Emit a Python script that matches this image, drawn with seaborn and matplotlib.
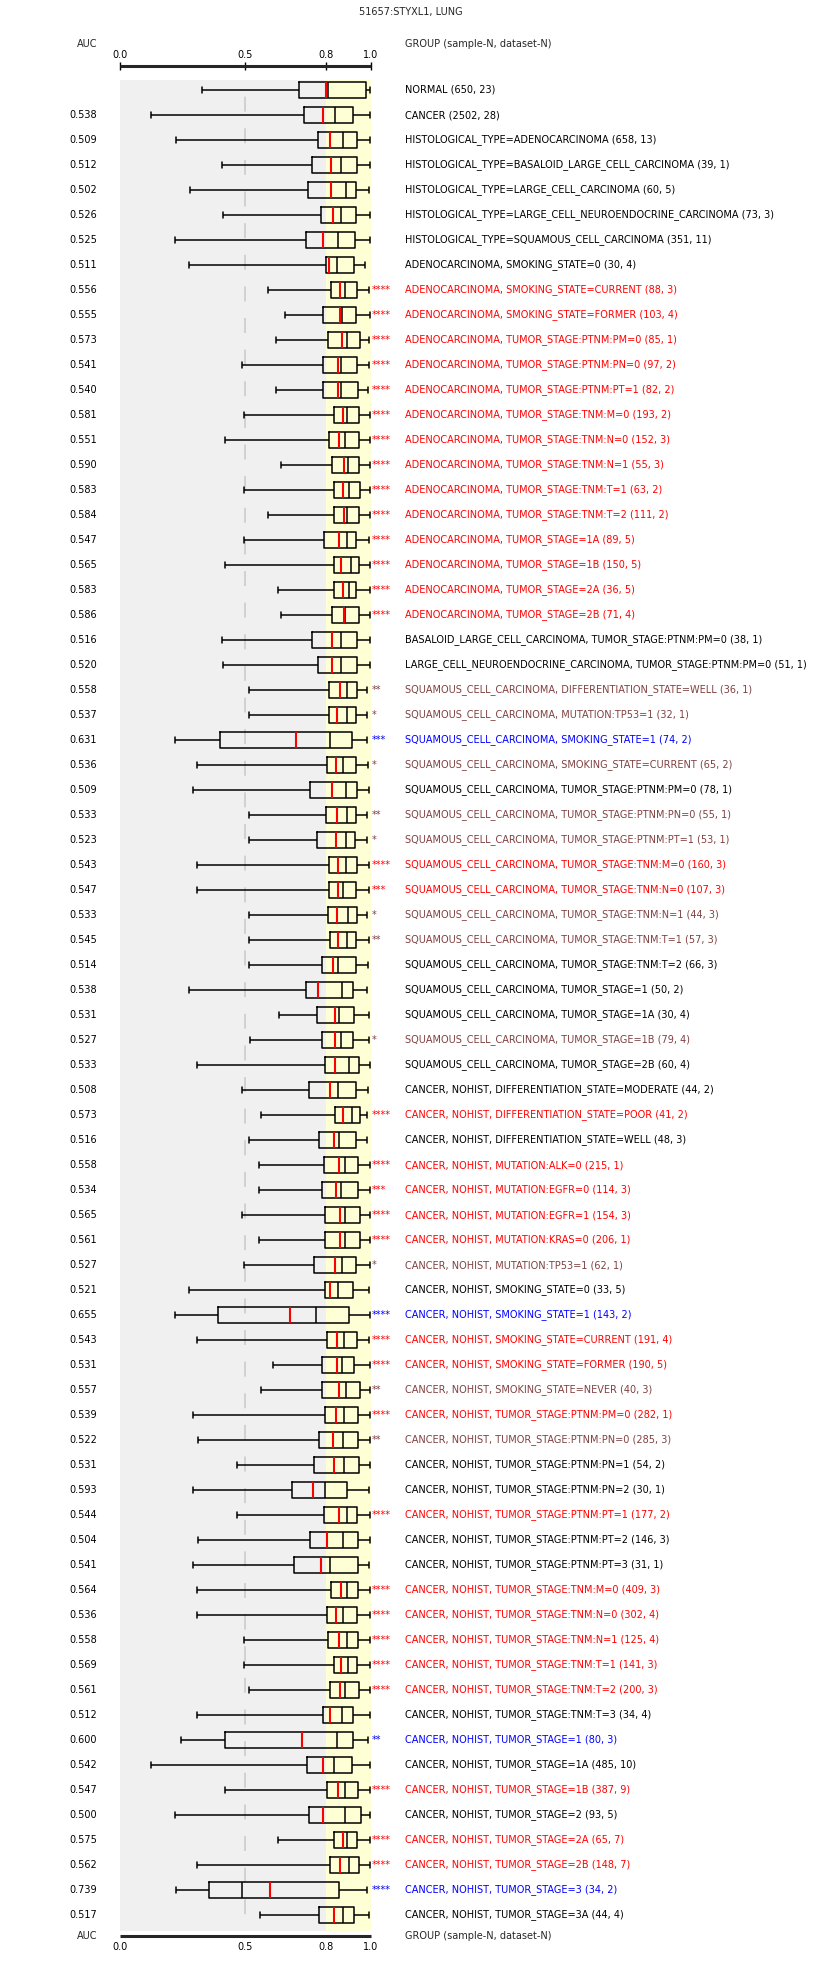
import numpy as np
import pandas as pd
import matplotlib
matplotlib.use("Agg")
import matplotlib.pyplot as plt
import matplotlib.transforms as mtransforms
import seaborn as sns

title = "51657:STYXL1, LUNG"
header_left = "AUC"
header_right = "GROUP (sample-N, dataset-N)"

groups = [
    "NORMAL (650, 23)",
    "CANCER (2502, 28)",
    "HISTOLOGICAL_TYPE=ADENOCARCINOMA (658, 13)",
    "HISTOLOGICAL_TYPE=BASALOID_LARGE_CELL_CARCINOMA (39, 1)",
    "HISTOLOGICAL_TYPE=LARGE_CELL_CARCINOMA (60, 5)",
    "HISTOLOGICAL_TYPE=LARGE_CELL_NEUROENDOCRINE_CARCINOMA (73, 3)",
    "HISTOLOGICAL_TYPE=SQUAMOUS_CELL_CARCINOMA (351, 11)",
    "ADENOCARCINOMA, SMOKING_STATE=0 (30, 4)",
    "ADENOCARCINOMA, SMOKING_STATE=CURRENT (88, 3)",
    "ADENOCARCINOMA, SMOKING_STATE=FORMER (103, 4)",
    "ADENOCARCINOMA, TUMOR_STAGE:PTNM:PM=0 (85, 1)",
    "ADENOCARCINOMA, TUMOR_STAGE:PTNM:PN=0 (97, 2)",
    "ADENOCARCINOMA, TUMOR_STAGE:PTNM:PT=1 (82, 2)",
    "ADENOCARCINOMA, TUMOR_STAGE:TNM:M=0 (193, 2)",
    "ADENOCARCINOMA, TUMOR_STAGE:TNM:N=0 (152, 3)",
    "ADENOCARCINOMA, TUMOR_STAGE:TNM:N=1 (55, 3)",
    "ADENOCARCINOMA, TUMOR_STAGE:TNM:T=1 (63, 2)",
    "ADENOCARCINOMA, TUMOR_STAGE:TNM:T=2 (111, 2)",
    "ADENOCARCINOMA, TUMOR_STAGE=1A (89, 5)",
    "ADENOCARCINOMA, TUMOR_STAGE=1B (150, 5)",
    "ADENOCARCINOMA, TUMOR_STAGE=2A (36, 5)",
    "ADENOCARCINOMA, TUMOR_STAGE=2B (71, 4)",
    "BASALOID_LARGE_CELL_CARCINOMA, TUMOR_STAGE:PTNM:PM=0 (38, 1)",
    "LARGE_CELL_NEUROENDOCRINE_CARCINOMA, TUMOR_STAGE:PTNM:PM=0 (51, 1)",
    "SQUAMOUS_CELL_CARCINOMA, DIFFERENTIATION_STATE=WELL (36, 1)",
    "SQUAMOUS_CELL_CARCINOMA, MUTATION:TP53=1 (32, 1)",
    "SQUAMOUS_CELL_CARCINOMA, SMOKING_STATE=1 (74, 2)",
    "SQUAMOUS_CELL_CARCINOMA, SMOKING_STATE=CURRENT (65, 2)",
    "SQUAMOUS_CELL_CARCINOMA, TUMOR_STAGE:PTNM:PM=0 (78, 1)",
    "SQUAMOUS_CELL_CARCINOMA, TUMOR_STAGE:PTNM:PN=0 (55, 1)",
    "SQUAMOUS_CELL_CARCINOMA, TUMOR_STAGE:PTNM:PT=1 (53, 1)",
    "SQUAMOUS_CELL_CARCINOMA, TUMOR_STAGE:TNM:M=0 (160, 3)",
    "SQUAMOUS_CELL_CARCINOMA, TUMOR_STAGE:TNM:N=0 (107, 3)",
    "SQUAMOUS_CELL_CARCINOMA, TUMOR_STAGE:TNM:N=1 (44, 3)",
    "SQUAMOUS_CELL_CARCINOMA, TUMOR_STAGE:TNM:T=1 (57, 3)",
    "SQUAMOUS_CELL_CARCINOMA, TUMOR_STAGE:TNM:T=2 (66, 3)",
    "SQUAMOUS_CELL_CARCINOMA, TUMOR_STAGE=1 (50, 2)",
    "SQUAMOUS_CELL_CARCINOMA, TUMOR_STAGE=1A (30, 4)",
    "SQUAMOUS_CELL_CARCINOMA, TUMOR_STAGE=1B (79, 4)",
    "SQUAMOUS_CELL_CARCINOMA, TUMOR_STAGE=2B (60, 4)",
    "CANCER, NOHIST, DIFFERENTIATION_STATE=MODERATE (44, 2)",
    "CANCER, NOHIST, DIFFERENTIATION_STATE=POOR (41, 2)",
    "CANCER, NOHIST, DIFFERENTIATION_STATE=WELL (48, 3)",
    "CANCER, NOHIST, MUTATION:ALK=0 (215, 1)",
    "CANCER, NOHIST, MUTATION:EGFR=0 (114, 3)",
    "CANCER, NOHIST, MUTATION:EGFR=1 (154, 3)",
    "CANCER, NOHIST, MUTATION:KRAS=0 (206, 1)",
    "CANCER, NOHIST, MUTATION:TP53=1 (62, 1)",
    "CANCER, NOHIST, SMOKING_STATE=0 (33, 5)",
    "CANCER, NOHIST, SMOKING_STATE=1 (143, 2)",
    "CANCER, NOHIST, SMOKING_STATE=CURRENT (191, 4)",
    "CANCER, NOHIST, SMOKING_STATE=FORMER (190, 5)",
    "CANCER, NOHIST, SMOKING_STATE=NEVER (40, 3)",
    "CANCER, NOHIST, TUMOR_STAGE:PTNM:PM=0 (282, 1)",
    "CANCER, NOHIST, TUMOR_STAGE:PTNM:PN=0 (285, 3)",
    "CANCER, NOHIST, TUMOR_STAGE:PTNM:PN=1 (54, 2)",
    "CANCER, NOHIST, TUMOR_STAGE:PTNM:PN=2 (30, 1)",
    "CANCER, NOHIST, TUMOR_STAGE:PTNM:PT=1 (177, 2)",
    "CANCER, NOHIST, TUMOR_STAGE:PTNM:PT=2 (146, 3)",
    "CANCER, NOHIST, TUMOR_STAGE:PTNM:PT=3 (31, 1)",
    "CANCER, NOHIST, TUMOR_STAGE:TNM:M=0 (409, 3)",
    "CANCER, NOHIST, TUMOR_STAGE:TNM:N=0 (302, 4)",
    "CANCER, NOHIST, TUMOR_STAGE:TNM:N=1 (125, 4)",
    "CANCER, NOHIST, TUMOR_STAGE:TNM:T=1 (141, 3)",
    "CANCER, NOHIST, TUMOR_STAGE:TNM:T=2 (200, 3)",
    "CANCER, NOHIST, TUMOR_STAGE:TNM:T=3 (34, 4)",
    "CANCER, NOHIST, TUMOR_STAGE=1 (80, 3)",
    "CANCER, NOHIST, TUMOR_STAGE=1A (485, 10)",
    "CANCER, NOHIST, TUMOR_STAGE=1B (387, 9)",
    "CANCER, NOHIST, TUMOR_STAGE=2 (93, 5)",
    "CANCER, NOHIST, TUMOR_STAGE=2A (65, 7)",
    "CANCER, NOHIST, TUMOR_STAGE=2B (148, 7)",
    "CANCER, NOHIST, TUMOR_STAGE=3 (34, 2)",
    "CANCER, NOHIST, TUMOR_STAGE=3A (44, 4)",
]

auc = [None, 0.538, 0.509, 0.512, 0.502, 0.526, 0.525, 0.511, 0.556, 0.555,
       0.573, 0.541, 0.540, 0.581, 0.551, 0.590, 0.583, 0.584, 0.547, 0.565,
       0.583, 0.586, 0.516, 0.520, 0.558, 0.537, 0.631, 0.536, 0.509, 0.533,
       0.523, 0.543, 0.547, 0.533, 0.545, 0.514, 0.538, 0.531, 0.527, 0.533,
       0.508, 0.573, 0.516, 0.558, 0.534, 0.565, 0.561, 0.527, 0.521, 0.655,
       0.543, 0.531, 0.557, 0.539, 0.522, 0.531, 0.593, 0.544, 0.504, 0.541,
       0.564, 0.536, 0.558, 0.569, 0.561, 0.512, 0.600, 0.542, 0.547, 0.500,
       0.575, 0.562, 0.739, 0.517]

stars = ["", "", "", "", "", "", "", "", "****", "****",
         "****", "****", "****", "****", "****", "****", "****", "****", "****", "****",
         "****", "****", "", "", "**", "*", "***", "*", "", "**",
         "*", "****", "***", "*", "**", "", "", "", "*", "",
         "", "****", "", "****", "***", "****", "****", "*", "", "****",
         "****", "****", "**", "****", "**", "", "", "****", "", "",
         "****", "****", "****", "****", "****", "", "**", "", "****", "",
         "****", "****", "****", ""]

# k = not significant, r = higher, n = weakly significant, b = lower
sig_class = ["k", "k", "k", "k", "k", "k", "k", "k", "r", "r",
             "r", "r", "r", "r", "r", "r", "r", "r", "r", "r",
             "r", "r", "k", "k", "n", "n", "b", "n", "k", "n",
             "n", "r", "r", "n", "n", "k", "k", "k", "n", "k",
             "k", "r", "k", "r", "r", "r", "r", "n", "k", "b",
             "r", "r", "n", "r", "n", "k", "k", "r", "k", "k",
             "r", "r", "r", "r", "r", "k", "b", "k", "r", "k",
             "r", "r", "b", "k"]

whisker_lo = [0.326, 0.125, 0.225, 0.408, 0.281, 0.412, 0.221, 0.277, 0.592, 0.660,
              0.621, 0.488, 0.621, 0.496, 0.420, 0.644, 0.496, 0.592, 0.496, 0.420,
              0.632, 0.644, 0.408, 0.412, 0.516, 0.516, 0.221, 0.309, 0.293, 0.516,
              0.516, 0.309, 0.309, 0.516, 0.516, 0.516, 0.277, 0.636, 0.520, 0.309,
              0.488, 0.564, 0.516, 0.556, 0.556, 0.488, 0.556, 0.496, 0.277, 0.221,
              0.309, 0.612, 0.564, 0.293, 0.313, 0.468, 0.293, 0.468, 0.313, 0.293,
              0.309, 0.309, 0.496, 0.496, 0.516, 0.309, 0.245, 0.125, 0.420, 0.221,
              0.632, 0.309, 0.225, 0.560]

q1 = [0.715, 0.735, 0.791, 0.767, 0.751, 0.803, 0.743, 0.823, 0.843, 0.811,
      0.831, 0.811, 0.811, 0.855, 0.835, 0.847, 0.855, 0.855, 0.815, 0.855,
      0.855, 0.847, 0.767, 0.791, 0.835, 0.835, 0.400, 0.827, 0.759, 0.823,
      0.787, 0.835, 0.835, 0.831, 0.839, 0.807, 0.743, 0.787, 0.807, 0.819,
      0.755, 0.859, 0.795, 0.815, 0.807, 0.819, 0.819, 0.775, 0.819, 0.392,
      0.827, 0.807, 0.807, 0.819, 0.795, 0.775, 0.688, 0.815, 0.759, 0.695,
      0.843, 0.827, 0.831, 0.855, 0.839, 0.811, 0.420, 0.747, 0.827, 0.755,
      0.855, 0.839, 0.356, 0.795]

median = [0.831, 0.859, 0.891, 0.883, 0.903, 0.883, 0.871, 0.867, 0.899, 0.886,
          0.907, 0.883, 0.883, 0.907, 0.899, 0.911, 0.915, 0.907, 0.907, 0.923,
          0.915, 0.899, 0.883, 0.883, 0.907, 0.907, 0.839, 0.891, 0.903, 0.907,
          0.903, 0.903, 0.891, 0.911, 0.907, 0.871, 0.887, 0.875, 0.883, 0.915,
          0.871, 0.927, 0.875, 0.899, 0.883, 0.899, 0.899, 0.887, 0.871, 0.783,
          0.895, 0.887, 0.903, 0.895, 0.891, 0.895, 0.819, 0.907, 0.891, 0.839,
          0.907, 0.891, 0.907, 0.911, 0.899, 0.887, 0.867, 0.855, 0.899, 0.899,
          0.907, 0.915, 0.488, 0.891]

q3 = [0.983, 0.931, 0.947, 0.947, 0.943, 0.943, 0.939, 0.935, 0.947, 0.943,
      0.959, 0.947, 0.951, 0.955, 0.955, 0.955, 0.959, 0.955, 0.943, 0.955,
      0.943, 0.955, 0.947, 0.947, 0.947, 0.943, 0.927, 0.943, 0.947, 0.943,
      0.939, 0.947, 0.943, 0.947, 0.943, 0.943, 0.931, 0.935, 0.931, 0.955,
      0.943, 0.959, 0.943, 0.951, 0.951, 0.959, 0.959, 0.943, 0.931, 0.915,
      0.947, 0.935, 0.959, 0.951, 0.951, 0.955, 0.907, 0.947, 0.951, 0.951,
      0.951, 0.947, 0.951, 0.947, 0.955, 0.931, 0.931, 0.927, 0.951, 0.963,
      0.947, 0.955, 0.875, 0.935]

whisker_hi = [0.999, 0.999, 0.999, 0.999, 0.995, 0.999, 0.999, 0.979, 0.995, 0.999,
              0.995, 0.995, 0.991, 0.999, 0.999, 0.999, 0.999, 0.999, 0.995, 0.999,
              0.999, 0.999, 0.999, 0.999, 0.987, 0.987, 0.987, 0.991, 0.995, 0.987,
              0.987, 0.995, 0.995, 0.987, 0.995, 0.991, 0.987, 0.995, 0.995, 0.999,
              0.991, 0.987, 0.987, 0.999, 0.999, 0.999, 0.999, 0.999, 0.995, 0.999,
              0.995, 0.999, 0.999, 0.999, 0.999, 0.999, 0.995, 0.999, 0.999, 0.995,
              0.999, 0.999, 0.999, 0.999, 0.999, 0.999, 0.991, 0.999, 0.999, 0.999,
              0.999, 0.999, 0.987, 0.995]

red_mark = [0.823, 0.811, 0.839, 0.843, 0.843, 0.851, 0.811, 0.835, 0.879, 0.879,
            0.887, 0.871, 0.871, 0.891, 0.875, 0.895, 0.891, 0.895, 0.875, 0.883,
            0.891, 0.895, 0.847, 0.847, 0.879, 0.867, 0.703, 0.863, 0.847, 0.867,
            0.863, 0.871, 0.871, 0.867, 0.871, 0.851, 0.791, 0.859, 0.859, 0.859,
            0.839, 0.891, 0.855, 0.875, 0.863, 0.879, 0.879, 0.859, 0.839, 0.680,
            0.867, 0.867, 0.875, 0.863, 0.851, 0.855, 0.771, 0.875, 0.827, 0.803,
            0.883, 0.863, 0.875, 0.883, 0.879, 0.839, 0.727, 0.811, 0.871, 0.811,
            0.891, 0.879, 0.600, 0.855]

tick_values = [0.0, 0.5, 0.822, 1.0]
tick_labels = ["0.0", "0.5", "0.8", "1.0"]
highlight_from = 0.822
reference_line = 0.5

class_colors = {"k": "#000000", "r": "#ff0000", "n": "#804040", "b": "#0000ff"}

# ---------------------------------------------------------------- layout
W_PX, H_PX, DPI = 823, 1980, 100
sns.set_style("white")
plt.rcParams["font.family"] = ["DejaVu Sans"]
FS = 7.0

fig = plt.figure(figsize=(W_PX / DPI, H_PX / DPI), dpi=DPI)

ax_left_px, ax_right_px = 120, 370.67
ax_top_px, ax_bot_px = 80, 1931
ax = fig.add_axes([ax_left_px / W_PX, 1 - ax_bot_px / H_PX,
                   (ax_right_px - ax_left_px) / W_PX,
                   (ax_bot_px - ax_top_px) / H_PX])
ax.set_facecolor("#f0f0f0")

n = len(groups)
stats = np.column_stack([whisker_lo, q1, median, q3, whisker_hi])
df = pd.DataFrame({"group": np.repeat(groups, 5), "value": stats.ravel()})

ax.axvspan(highlight_from, 1.0, color="#ffffd5", zorder=0, lw=0)

sns.boxplot(data=df, x="value", y="group", order=groups, orient="h",
            whis=np.inf, fill=False, color="black", linewidth=1.1,
            width=0.64, showfliers=False, capwidths=0.22, ax=ax, zorder=3)

pos = np.arange(n)
ylim_top, ylim_bot = -0.4, n - 1 + 0.64
ax.set_xlim(0, 1)
ax.set_ylim(ylim_bot, ylim_top)

# dashed reference line
lw_ref = 1.1
ax.plot([reference_line, reference_line], [ylim_top, ylim_bot],
        color="#c8c8c8", lw=lw_ref, zorder=1,
        linestyle=(9.8, (9.8, 10.9)))

ax.vlines(red_mark, pos - 0.32, pos + 0.32, colors="red", linewidth=1.5, zorder=4)

ax.set_xticks([])
ax.set_yticks([])
ax.set_xlabel("")
ax.set_ylabel("")
for s in ax.spines.values():
    s.set_visible(False)

# rulers
def ruler(y_px, top):
    rax = fig.add_axes([ax_left_px / W_PX, 1 - y_px / H_PX,
                        (ax_right_px - ax_left_px) / W_PX, 1e-6])
    rax.set_facecolor("none")
    rax.set_xlim(0, 1)
    rax.set_yticks([])
    for s in ["left", "right", "top"]:
        rax.spines[s].set_visible(False)
    rax.spines["bottom"].set_linewidth(2.2)
    rax.spines["bottom"].set_capstyle("butt")
    rax.set_xticks(tick_values, tick_labels)
    rax.tick_params(axis="x", direction="inout", length=5.8, width=1.0,
                    labelsize=FS, pad=1.5, colors="black")
    if top:
        rax.tick_params(axis="x", top=True, bottom=False,
                        labeltop=True, labelbottom=False)
    return rax

ruler(65.7, True)
ruler(1935.7, False)

def ftext(x_px, y_px, s, **kw):
    fig.text(x_px / W_PX, 1 - y_px / H_PX, s, fontsize=FS, **kw)

ftext(411, 12, title, ha="center", va="center")
ftext(97, 44, header_left, ha="right", va="center")
ftext(405, 44, header_right, ha="left", va="center")
ftext(97, 1936, header_left, ha="right", va="center")
ftext(405, 1936, header_right, ha="left", va="center")

tr = mtransforms.blended_transform_factory(fig.transFigure, ax.transData)
for i in range(n):
    col = class_colors[sig_class[i]]
    fig.text(405 / W_PX, pos[i], groups[i], transform=tr, fontsize=FS,
             color=col, ha="left", va="center")
    if stars[i]:
        fig.text(372 / W_PX, pos[i], stars[i], transform=tr, fontsize=FS,
                 color=col, ha="left", va="center")
    if auc[i] is not None:
        fig.text(97 / W_PX, pos[i], f"{auc[i]:.3f}", transform=tr,
                 fontsize=FS, color="black", ha="right", va="center")

fig.savefig("out.png", dpi=DPI, facecolor="white")
